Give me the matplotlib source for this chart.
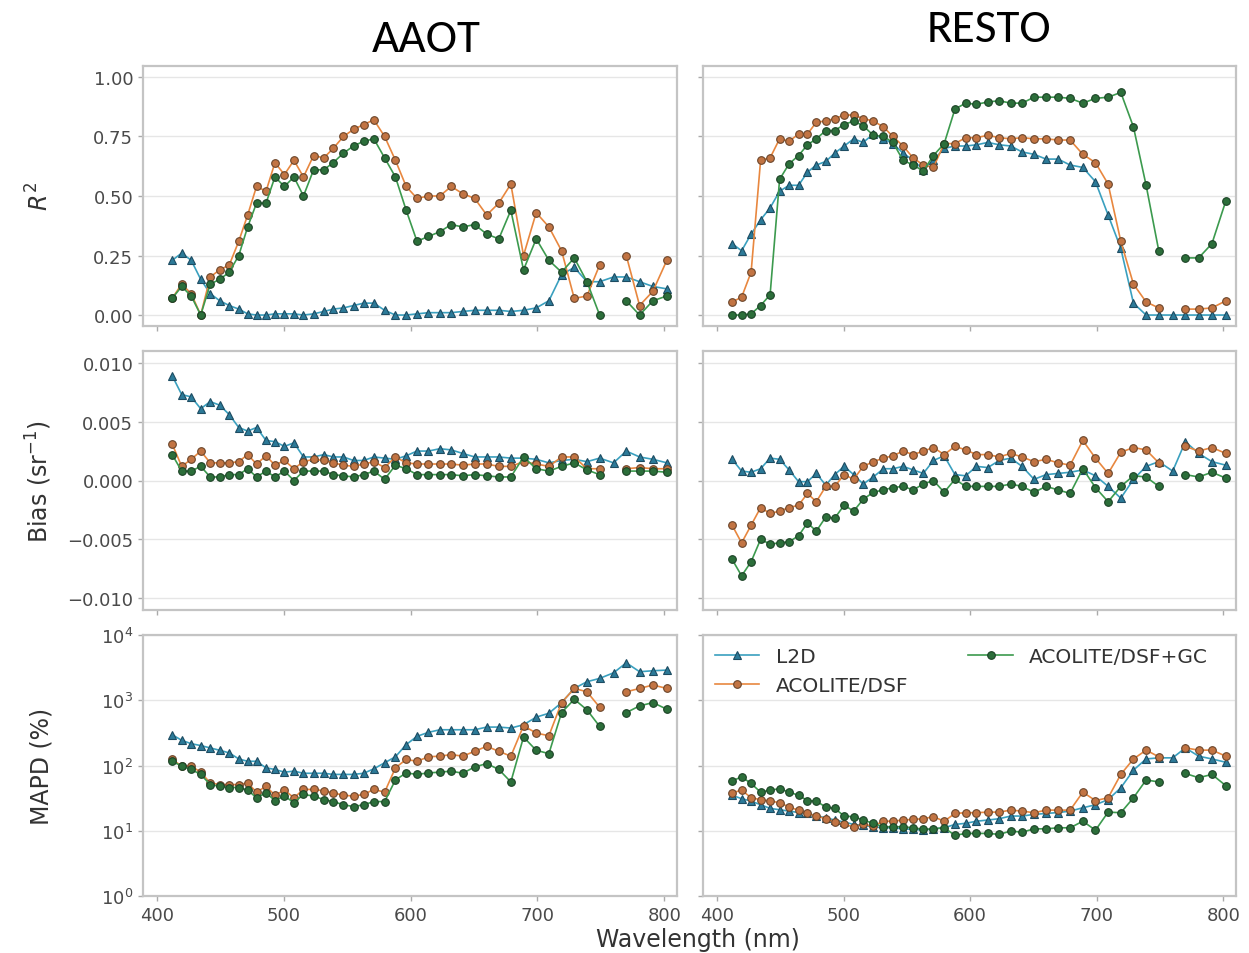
import numpy as np
import matplotlib
matplotlib.use('Agg')
import matplotlib.pyplot as plt
from matplotlib.ticker import NullLocator
from matplotlib import font_manager

# band centres (nm)
wavelength = [412, 419.5, 427, 434.5, 442, 449.5, 457, 464.5, 471.5, 478.5,
              486, 493, 500.5, 508, 515.5, 523.5, 531.5, 539, 547, 555,
              563, 571, 579.5, 588, 596.5, 605, 614, 623, 632, 641,
              650.5, 660, 669.5, 679, 689, 699, 709, 719, 729, 739,
              749, 760, 770, 780.5, 791, 802]
nan = np.nan

# ---- AAOT ----
aaot_r2_l2d = [0.23, 0.26, 0.23, 0.15, 0.09, 0.06, 0.04, 0.025, 0.005, 0.0,
               0.0, 0.005, 0.005, 0.005, 0.0, 0.005, 0.015, 0.025, 0.03, 0.04,
               0.05, 0.05, 0.02, 0.0, 0.0, 0.005, 0.01, 0.01, 0.01, 0.015,
               0.02, 0.02, 0.02, 0.015, 0.02, 0.03, 0.06, 0.17, 0.20, 0.14,
               0.14, 0.16, 0.16, 0.14, 0.12, 0.11]
aaot_r2_dsf = [0.07, 0.13, 0.09, 0.0, 0.16, 0.19, 0.21, 0.31, 0.42, 0.54,
               0.52, 0.64, 0.59, 0.65, 0.58, 0.67, 0.66, 0.70, 0.75, 0.78,
               0.80, 0.82, 0.75, 0.65, 0.54, 0.49, 0.50, 0.50, 0.54, 0.51,
               0.49, 0.42, 0.47, 0.55, 0.25, 0.43, 0.37, 0.27, 0.07, 0.08,
               0.21, nan, 0.25, 0.04, 0.10, 0.23]
aaot_r2_gc = [0.07, 0.12, 0.08, 0.0, 0.13, 0.15, 0.18, 0.25, 0.37, 0.47,
              0.47, 0.58, 0.54, 0.58, 0.50, 0.61, 0.61, 0.64, 0.68, 0.71,
              0.73, 0.74, 0.66, 0.58, 0.44, 0.31, 0.33, 0.35, 0.38, 0.37,
              0.38, 0.34, 0.32, 0.44, 0.19, 0.32, 0.23, 0.18, 0.24, 0.14,
              0.0, nan, 0.06, 0.0, 0.06, 0.08]

aaot_bias_l2d = [0.0089, 0.0073, 0.0071, 0.0061, 0.0067, 0.0064, 0.0056, 0.0045, 0.0042, 0.0045,
                 0.0034, 0.0033, 0.0029, 0.0032, 0.0020, 0.0020, 0.0022, 0.0020, 0.0020, 0.0017,
                 0.0017, 0.0020, 0.0019, 0.0018, 0.0021, 0.0025, 0.0025, 0.0027, 0.0026, 0.0023,
                 0.0020, 0.0020, 0.0020, 0.0019, 0.0019, 0.0018, 0.0015, 0.0017, 0.0018, 0.0016,
                 0.0019, 0.0015, 0.0025, 0.0020, 0.0018, 0.0015]
aaot_bias_dsf = [0.0031, 0.0012, 0.0018, 0.0025, 0.0015, 0.0015, 0.0015, 0.0016, 0.0022, 0.0014,
                 0.0021, 0.0013, 0.0017, 0.0010, 0.0016, 0.0018, 0.0017, 0.0015, 0.0013, 0.0012,
                 0.0014, 0.0016, 0.0011, 0.0020, 0.0015, 0.0014, 0.0014, 0.0014, 0.0014, 0.0013,
                 0.0014, 0.0014, 0.0012, 0.0012, 0.0016, 0.0014, 0.0012, 0.0020, 0.0020, 0.0010,
                 0.0010, nan, 0.0010, 0.0011, 0.0010, 0.0010]
aaot_bias_gc = [0.0022, 0.0008, 0.0008, 0.0012, 0.0003, 0.0003, 0.0005, 0.0005, 0.0010, 0.0003,
                0.0008, 0.0003, 0.0008, 0.0000, 0.0008, 0.0008, 0.0008, 0.0005, 0.0004, 0.0003,
                0.0005, 0.0008, 0.0001, 0.0013, 0.0010, 0.0005, 0.0005, 0.0005, 0.0005, 0.0004,
                0.0005, 0.0004, 0.0003, 0.0003, 0.0020, 0.0010, 0.0008, 0.0012, 0.0015, 0.0009,
                0.0005, nan, 0.0008, 0.0008, 0.0008, 0.0007]

aaot_mapd_l2d = [297, 243, 216, 202, 186, 171, 156, 126, 116, 116,
                 92, 87, 79, 82, 76, 76, 76, 73, 73, 73,
                 76, 89, 110, 136, 209, 280, 322, 353, 353, 353,
                 353, 388, 388, 375, 421, 551, 632, 920, 1517, 1923,
                 2162, 2633, 3748, 2737, 2831, 2899]
aaot_mapd_dsf = [124, 98, 98, 79, 54, 51, 51, 51, 54, 39,
                 48, 35, 42, 32, 43, 43, 41, 38, 35, 34,
                 36, 43, 39, 92, 124, 116, 136, 139, 147, 139,
                 165, 197, 165, 139, 406, 314, 286, 920, 1517, 1349,
                 782, nan, 1349, 1517, 1713, 1517]
aaot_mapd_gc = [116, 98, 87, 73, 51, 48, 46, 46, 42, 32,
                38, 29, 34, 27, 36, 34, 30, 28, 25, 23.5,
                25, 28, 28, 60, 77, 73, 77, 79, 82, 76,
                95, 107, 87, 56, 273, 171, 152, 646, 1035, 713,
                398, nan, 646, 820, 920, 729]

# ---- RESTO ----
resto_r2_l2d = [0.30, 0.27, 0.34, 0.40, 0.45, 0.52, 0.545, 0.545, 0.60, 0.63,
                0.645, 0.68, 0.71, 0.74, 0.725, 0.76, 0.74, 0.72, 0.68, 0.65,
                0.61, 0.65, 0.70, 0.71, 0.71, 0.715, 0.725, 0.715, 0.71, 0.685,
                0.675, 0.655, 0.655, 0.63, 0.62, 0.56, 0.42, 0.28, 0.05, 0.0,
                0.0, 0.0, 0.0, 0.0, 0.0, 0.0]
resto_r2_dsf = [0.055, 0.075, 0.18, 0.65, 0.66, 0.74, 0.73, 0.76, 0.76, 0.81,
                0.815, 0.825, 0.84, 0.84, 0.825, 0.815, 0.79, 0.75, 0.71, 0.66,
                0.63, 0.62, 0.72, 0.72, 0.745, 0.745, 0.755, 0.745, 0.74, 0.745,
                0.74, 0.74, 0.735, 0.735, 0.675, 0.64, 0.55, 0.31, 0.13, 0.055,
                0.03, nan, 0.025, 0.025, 0.03, 0.06]
resto_r2_gc = [0.0, 0.0, 0.005, 0.04, 0.085, 0.57, 0.635, 0.67, 0.715, 0.74,
               0.775, 0.775, 0.80, 0.815, 0.795, 0.755, 0.75, 0.725, 0.65, 0.63,
               0.605, 0.67, 0.72, 0.865, 0.89, 0.885, 0.895, 0.90, 0.89, 0.89,
               0.915, 0.915, 0.915, 0.91, 0.89, 0.91, 0.915, 0.935, 0.79, 0.545,
               0.27, nan, 0.24, 0.24, 0.30, 0.48]

resto_bias_l2d = [0.0018, 0.0008, 0.0007, 0.0010, 0.0019, 0.0018, 0.0009, -0.0001, -0.0001, 0.0006,
                  -0.0004, 0.0005, 0.0012, 0.0005, -0.0003, 0.0003, 0.0010, 0.0010, 0.0012, 0.0009,
                  0.0006, 0.0017, 0.0021, 0.0005, 0.0004, 0.0012, 0.0011, 0.0017, 0.0019, 0.0012,
                  0.0001, 0.0005, 0.0006, 0.0007, 0.0009, 0.0004, -0.0005, -0.0015, 0.0001, 0.0012,
                  0.0016, 0.0008, 0.0033, 0.0023, 0.0016, 0.0013]
resto_bias_dsf = [-0.0038, -0.0053, -0.0038, -0.0023, -0.0028, -0.0026, -0.0023, -0.0021, -0.0011, -0.0018,
                  -0.0005, -0.0005, 0.0005, 0.0001, 0.0012, 0.0016, 0.0019, 0.0021, 0.0025, 0.0022,
                  0.0025, 0.0028, 0.0022, 0.0029, 0.0026, 0.0022, 0.0022, 0.0020, 0.0023, 0.0020,
                  0.0016, 0.0018, 0.0015, 0.0013, 0.0034, 0.0019, 0.0006, 0.0024, 0.0028, 0.0026,
                  0.0015, nan, 0.0029, 0.0025, 0.0028, 0.0023]
resto_bias_gc = [-0.0067, -0.0081, -0.0069, -0.0050, -0.0054, -0.0053, -0.0052, -0.0047, -0.0036, -0.0043,
                 -0.0031, -0.0032, -0.0021, -0.0026, -0.0016, -0.0010, -0.0008, -0.0006, -0.0005, -0.0008,
                 -0.0003, 0.0000, -0.0010, 0.0001, -0.0005, -0.0005, -0.0005, -0.0005, -0.0003, -0.0005,
                 -0.0010, -0.0005, -0.0008, -0.0011, 0.0010, -0.0006, -0.0018, -0.0005, 0.0004, 0.0003,
                 -0.0005, nan, 0.0005, 0.0003, 0.0007, 0.0002]

resto_mapd_l2d = [35, 31, 28.5, 25, 22, 21, 20, 19, 18.4, 17,
                  15.8, 14.6, 13.6, 12.5, 12.1, 11.5, 11.1, 11.1, 10.7, 10.5,
                  10.2, 10.7, 11.1, 12.5, 13, 14, 14.6, 15.3, 16.8, 16.8,
                  17.8, 18.4, 19, 20, 22.5, 25, 30, 45.5, 85, 126,
                  131, 131, 186, 139, 126, 112]
resto_mapd_dsf = [38, 42, 32, 30, 28.5, 27, 23, 20.7, 18.4, 16.8,
                  15.3, 13.6, 12.5, 11.5, 12.5, 11.8, 14, 14, 14.6, 14.9,
                  15.3, 16.4, 14, 18.4, 18.9, 18.9, 19.3, 19.3, 20.7, 20,
                  18.9, 20.7, 20.7, 20.7, 39, 29, 32, 73, 126, 172,
                  136, nan, 186, 172, 172, 139]
resto_mapd_gc = [58, 67, 53, 39, 42, 44, 39, 35, 29, 28.5,
                 23, 22, 16.8, 16.4, 14.6, 13, 11.5, 11.5, 11.5, 11.1,
                 10.5, 10.7, 11.1, 8.5, 9.1, 9.1, 9.1, 8.8, 9.9, 9.5,
                 10.7, 10.7, 11.1, 11.1, 14, 10.2, 19.3, 18.9, 32, 60,
                 56, nan, 75.5, 65, 73, 49]

series_names = ['L2D', 'ACOLITE/DSF', 'ACOLITE/DSF+GC']
sites = ['AAOT', 'RESTO']
panels = {
    'AAOT': [[aaot_r2_l2d, aaot_r2_dsf, aaot_r2_gc],
             [aaot_bias_l2d, aaot_bias_dsf, aaot_bias_gc],
             [aaot_mapd_l2d, aaot_mapd_dsf, aaot_mapd_gc]],
    'RESTO': [[resto_r2_l2d, resto_r2_dsf, resto_r2_gc],
              [resto_bias_l2d, resto_bias_dsf, resto_bias_gc],
              [resto_mapd_l2d, resto_mapd_dsf, resto_mapd_gc]],
}

styles = [
    dict(color='#3aa0bf', marker='^', mfc='#2c7a98', mec='#1d4c62'),
    dict(color='#e8873f', marker='o', mfc='#c27443', mec='#6b452a'),
    dict(color='#3c9a4e', marker='o', mfc='#2c6e3a', mec='#1c4226'),
]

W, H = 1249, 954
fig = plt.figure(figsize=(W / 100, H / 100), dpi=100)


def box(x0, y0, x1, y1):
    return [x0 / W, 1 - y1 / H, (x1 - x0) / W, (y1 - y0) / H]


col_x = [(143, 677), (703, 1236)]
row_y = [(67, 327), (352, 611), (636, 897)]
ylabels = ['$R^2$', 'Bias (sr$^{-1}$)', 'MAPD (%)']

axes = [[None, None] for _ in range(3)]
for r in range(3):
    for c in range(2):
        ax = fig.add_axes(box(col_x[c][0], row_y[r][0], col_x[c][1], row_y[r][1]))
        axes[r][c] = ax
        for k, vals in enumerate(panels[sites[c]][r]):
            st = styles[k]
            ax.plot(wavelength, vals, color=st['color'], lw=1.2, marker=st['marker'],
                    ms=5.5, mfc=st['mfc'], mec=st['mec'], mew=0.8, label=series_names[k])
        ax.set_xlim(389, 810)
        ax.set_xticks([400, 500, 600, 700, 800])
        if r == 0:
            ax.set_ylim(-0.046, 1.046)
            ax.set_yticks([0, 0.25, 0.5, 0.75, 1.0])
            ax.set_yticklabels(['0.00', '0.25', '0.50', '0.75', '1.00'])
        elif r == 1:
            ax.set_ylim(-0.011, 0.011)
            ax.set_yticks([-0.01, -0.005, 0, 0.005, 0.01])
            ax.set_yticklabels(['\u22120.010', '\u22120.005', '0.000', '0.005', '0.010'])
        else:
            ax.set_yscale('log')
            ax.set_ylim(1, 1e4)
            ax.set_yticks([1, 10, 100, 1000, 10000])
            ax.yaxis.set_minor_locator(NullLocator())
        ax.grid(axis='y', color='#e6e6e6', lw=1.0)
        ax.set_axisbelow(True)
        for sp in ax.spines.values():
            sp.set_color('#c4c4c4')
            sp.set_linewidth(1.6)
        ax.tick_params(direction='out', length=3.5, width=1, color='#aaaaaa',
                       labelcolor='#4a4a4a', labelsize=13)
        if r < 2:
            ax.tick_params(labelbottom=False)
        if c == 1:
            ax.tick_params(labelleft=False)
        else:
            ax.set_ylabel(ylabels[r], fontsize=17, color='#333333')
            ax.yaxis.set_label_coords(-0.167, 0.5)

axes[2][1].legend(loc='upper left', ncol=2, frameon=False, fontsize=14.5,
                  columnspacing=3.0, handlelength=2.2, labelcolor='#333333',
                  borderaxespad=0.2)

fig.text(698 / W, 1 - 940 / H, 'Wavelength (nm)', fontsize=17, color='#333333',
         ha='center', va='center')

# narrow sans for the site headings, whichever is available
installed = {f.name for f in font_manager.fontManager.ttflist}
title_font = next((f for f in ['Carlito', 'Liberation Sans Narrow', 'Roboto Condensed', 'Lato']
                   if f in installed), 'DejaVu Sans')
title_size = 34 if title_font in ('Carlito', 'Liberation Sans Narrow', 'Roboto Condensed') else 30
fig.text(426 / W, 1 - 40 / H, 'AAOT', fontsize=title_size, family=title_font,
         ha='center', va='center')
fig.text(989 / W, 1 - 30 / H, 'RESTO', fontsize=title_size, family=title_font,
         ha='center', va='center')

fig.savefig('out.png', dpi=100)
